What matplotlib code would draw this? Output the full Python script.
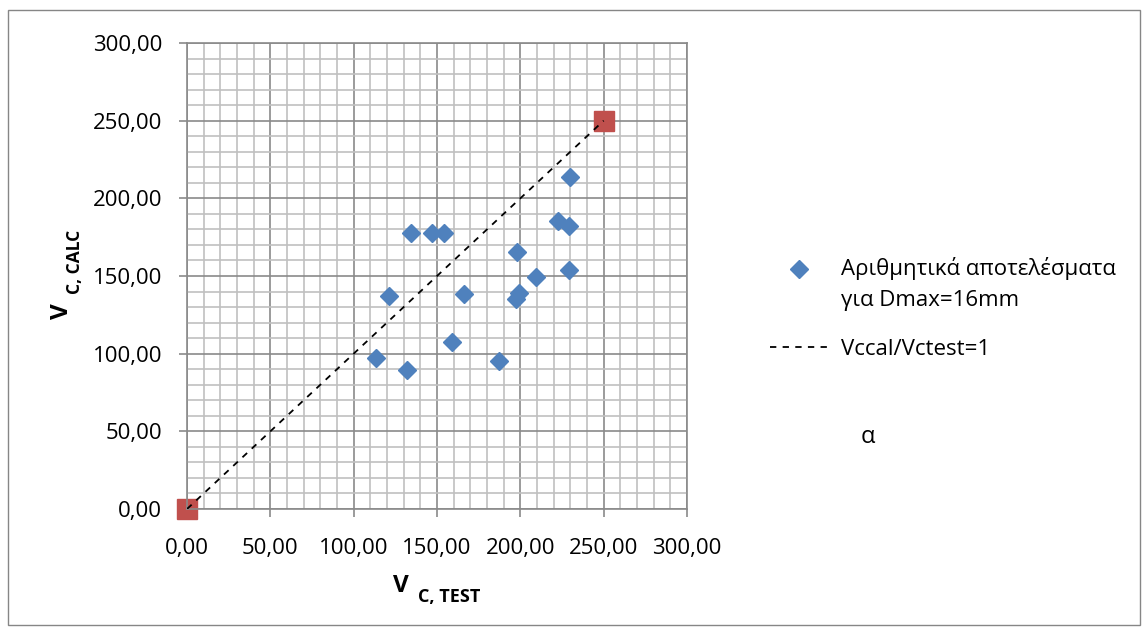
import matplotlib
matplotlib.use("Agg")
import matplotlib.pyplot as plt
from matplotlib.ticker import MultipleLocator, FuncFormatter
from matplotlib.patches import Rectangle

plt.rcParams['font.family'] = ['Open Sans', 'DejaVu Sans']

# Data: numerical results (V_C,TEST, V_C,CALC)
v_test = [134.4, 147.0, 154.2, 229.8, 222.6, 229.2, 198.0, 209.4, 229.2,
          121.2, 166.2, 199.2, 197.4, 159.0, 113.4, 132.0, 187.2]
v_calc = [177.7, 178.0, 178.0, 213.8, 185.4, 182.2, 165.5, 149.4, 153.9,
          137.2, 138.4, 139.0, 135.2, 107.5, 97.2, 89.5, 95.3]

# Reference line Vccal/Vctest = 1
line_x = [0.0, 250.0]
line_y = [0.0, 250.0]

series_label = "Αριθμητικά αποτελέσματα\nγια Dmax=16mm"
line_label = "Vccal/Vctest=1"

W, H = 1148, 633
fig = plt.figure(figsize=(W / 100, H / 100), dpi=100)

# outer chart border
fig.patches.append(Rectangle((8 / W, 1 - 625 / H), (1140 - 8) / W, (625 - 10) / H,
                             transform=fig.transFigure, fill=False,
                             edgecolor='#868686', linewidth=1.0))

ax = fig.add_axes([187 / W, 1 - 509 / H, 500 / W, 466 / H])

ax.set_xlim(0, 300)
ax.set_ylim(0, 300)
ax.xaxis.set_major_locator(MultipleLocator(50))
ax.yaxis.set_major_locator(MultipleLocator(50))
ax.xaxis.set_minor_locator(MultipleLocator(10))
ax.yaxis.set_minor_locator(MultipleLocator(10))
fmt = FuncFormatter(lambda v, p: f"{v:.2f}".replace('.', ','))
ax.xaxis.set_major_formatter(fmt)
ax.yaxis.set_major_formatter(fmt)

ax.grid(which='minor', color='#c0c0c0', linewidth=1.2, zorder=0)
ax.grid(which='major', color='#8a8a8a', linewidth=1.2, zorder=0)
ax.set_axisbelow(True)
for s in ax.spines.values():
    s.set_color('#8a8a8a')
    s.set_linewidth(1.2)

ax.tick_params(which='major', length=6, color='#8a8a8a', width=1.2,
               labelsize=16, colors='#8a8a8a', labelcolor='black')
ax.tick_params(axis='y', which='major', pad=12)
ax.tick_params(axis='x', which='major', pad=15)
ax.tick_params(which='minor', length=0)

sc = ax.plot(v_test, v_calc, linestyle='none', marker='D', markersize=9.5,
             color='#4F81BD', label=series_label, zorder=4, clip_on=False)
ln = ax.plot(line_x, line_y, linestyle=(0, (3.5, 3.5)), color='black',
             linewidth=1.3, label=line_label, zorder=3)
ax.plot(line_x, line_y, linestyle='none', marker='s', markersize=14,
        color='#C0504D', zorder=2, clip_on=False)

leg = ax.legend(handles=[sc[0], ln[0]], loc='upper left',
                bbox_to_anchor=(770 / W, 1 - 257 / H),
                bbox_transform=fig.transFigure, frameon=False,
                fontsize=16, handlelength=2.6, handletextpad=0.6,
                labelspacing=1.25, borderaxespad=0, borderpad=0)
for t in leg.get_texts():
    t.set_linespacing(1.65)
# place the diamond at the level of the first text line
h0 = leg.legend_handles[0]
yd = h0.get_ydata()
h0.set_ydata([v + 11 for v in yd])

fig.text(868 / W, 1 - 437 / H, "α", fontsize=17, ha='center', va='center')

# y-axis title: V with subscript
fig.text(62 / W, 1 - 311 / H, "V", fontsize=17.5, fontweight='bold',
         rotation=90, ha='center', va='center')
fig.text(75 / W, 1 - 262 / H, "C, CALC", fontsize=12.5, fontweight='bold',
         rotation=90, ha='center', va='center')
# x-axis title
fig.text(400.5 / W, 1 - 586.5 / H, "V", fontsize=17.5, fontweight='bold',
         ha='center', va='center')
fig.text(449 / W, 1 - 597 / H, "C, TEST", fontsize=13, fontweight='bold',
         ha='center', va='center')

fig.savefig("out.png", dpi=100)
